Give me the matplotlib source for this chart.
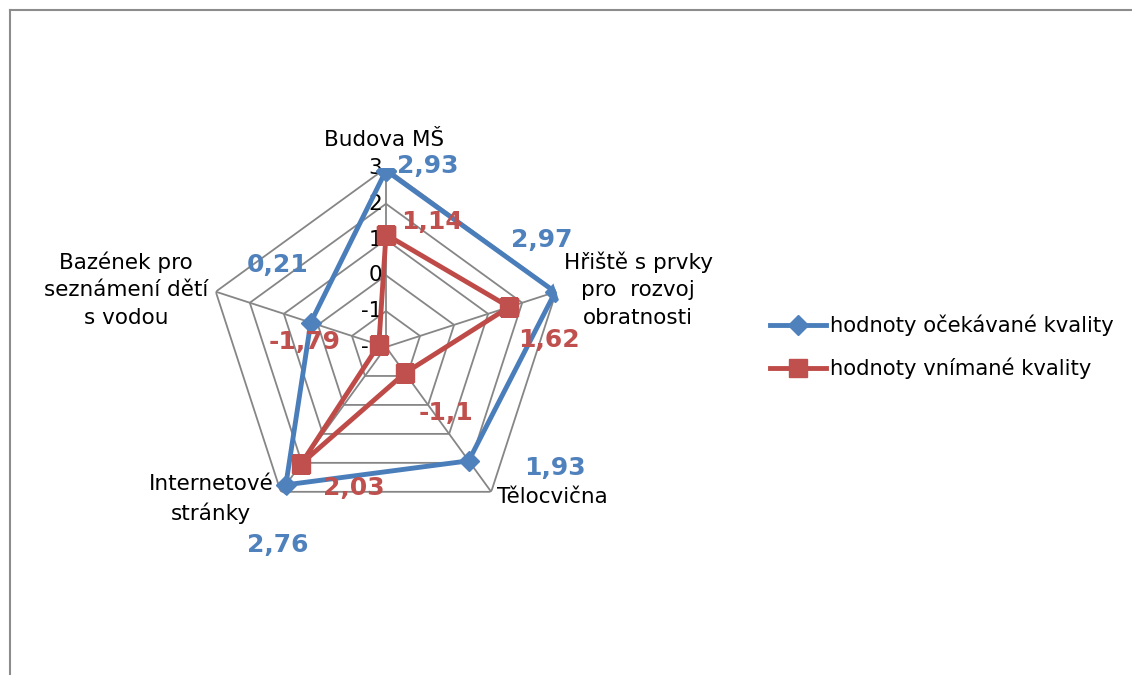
import numpy as np
import matplotlib
matplotlib.use('Agg')
import matplotlib.pyplot as plt
from matplotlib.lines import Line2D

# radar chart - expected vs perceived quality
categories = ['Budova MŠ', 'Hřiště s prvky\npro  rozvoj\nobratnosti', 'Tělocvična',
              'Internetové\nstránky', 'Bazének pro\nseznámení dětí\ns vodou']
expected = [2.93, 2.97, 1.93, 2.76, 0.21]
perceived = [1.14, 1.62, -1.1, 2.03, -1.79]
series_names = ['hodnoty očekávané kvality', 'hodnoty vnímané kvality']
rticks = [-2, -1, 0, 1, 2, 3]

blue = '#4A7EBB'
red = '#BE4B48'
grid_c = '#868686'

W, H = 1132, 675
fig = plt.figure(figsize=(W/100, H/100), dpi=100)

# axes placed so the centre sits at (386, 347) px, radius 179 px
cx, cy, R = 386, 347, 179
ax = fig.add_axes([(cx-R)/W, (H-cy-R)/H, 2*R/W, 2*R/H], projection='polar')
ax.set_theta_offset(np.pi/2)
ax.set_theta_direction(-1)
ax.set_ylim(rticks[0], rticks[-1])
ax.grid(False)
ax.spines['polar'].set_visible(False)
ax.set_xticks([])
ax.set_yticks([])
ax.patch.set_visible(False)

n = len(categories)
theta = np.arange(n) * 2*np.pi/n
theta_c = np.append(theta, theta[0])

# pentagon grid + spokes
for r in rticks[1:]:
    ax.plot(theta_c, [r]*(n+1), color=grid_c, lw=1.3, zorder=1)
for t in theta:
    ax.plot([t, t], [rticks[0], rticks[-1]], color=grid_c, lw=1.3, zorder=1)

# radial tick labels
for r in rticks:
    ax.annotate(str(r), xy=(0, r), xytext=(-4, 0), textcoords='offset pixels',
                ha='right', va='center', fontsize=15.5, zorder=2)

# series
ax.plot(theta_c, expected + expected[:1], color=blue, lw=3.5, marker='D',
        ms=10.5, mfc='#4F81BD', mec='#4F81BD', zorder=3, label=series_names[0])
ax.plot(theta_c, perceived + perceived[:1], color=red, lw=3.5, marker='s',
        ms=13, mfc='#C0504D', mec='#C0504D', zorder=4, label=series_names[1])

# category labels (offsets in px from outer vertex)
cat_off = [(-2, 28), (82, 2), (61, -5), (-70, -7), (-90, 2)]
for t, lab, off in zip(theta, categories, cat_off):
    ax.annotate(lab, xy=(t, rticks[-1]), xytext=off, textcoords='offset pixels',
                ha='center', va='center', fontsize=15.5, linespacing=1.45, zorder=2)

# data labels
exp_off = [(42, 5), (-13, 52), (86, -7), (-8, -60), (-33, 58)]
per_off = [(46, 13), (40, -33), (41, -40), (53, -24), (-74, 3)]
for t, v, off in zip(theta, expected, exp_off):
    ax.annotate(str(v).replace('.', ','), xy=(t, v), xytext=off, textcoords='offset pixels',
                ha='center', va='center', fontsize=18, fontweight='bold',
                color='#4F81BD', zorder=5, annotation_clip=False)
for t, v, off in zip(theta, perceived, per_off):
    ax.annotate(str(v).replace('.', ','), xy=(t, v), xytext=off, textcoords='offset pixels',
                ha='center', va='center', fontsize=18, fontweight='bold',
                color='#C0504D', zorder=5, annotation_clip=False)

fig.legend(loc='center left', bbox_to_anchor=(770/W, 1-347/H), frameon=False,
           fontsize=15.2, handlelength=2.65, handletextpad=0.2, labelspacing=1.0,
           borderpad=0, borderaxespad=0)

# chart area border (top and left visible)
fig.add_artist(Line2D([10/W, 1], [1-10/H, 1-10/H], transform=fig.transFigure,
                      color='#8c8c8c', lw=1.5))
fig.add_artist(Line2D([10/W, 10/W], [0, 1-10/H], transform=fig.transFigure,
                      color='#8c8c8c', lw=1.5))

fig.savefig('out.png', dpi=100)
